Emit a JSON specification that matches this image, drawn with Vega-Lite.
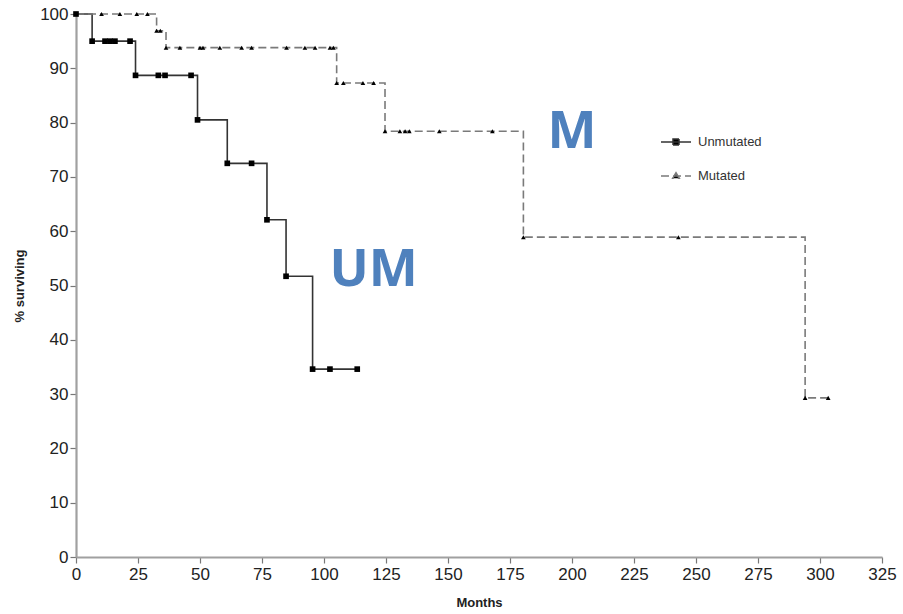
{
  "$schema": "https://vega.github.io/schema/vega-lite/v6.json",
  "width": 806,
  "height": 543,
  "autosize": {"type": "none"},
  "padding": {"left": 76, "top": 14, "right": 21, "bottom": 57},
  "background": "white",
  "config": {
    "view": {"stroke": null},
    "font": "Liberation Sans",
    "axis": {
      "grid": false,
      "domainColor": "#a0a0a0",
      "domainWidth": 2.2,
      "tickColor": "#777777",
      "tickSize": 6,
      "tickWidth": 1.2,
      "labelFlush": false,
      "labelFont": "Liberation Sans",
      "labelFontSize": 17,
      "labelColor": "#222222",
      "titleFont": "Liberation Sans",
      "titleFontWeight": "bold",
      "titleFontSize": 13,
      "titleColor": "#222222"
    },
    "legend": {
      "orient": "none",
      "legendX": 584,
      "legendY": 112,
      "title": null,
      "symbolSize": 900,
      "symbolStrokeWidth": 1.5,
      "labelFont": "Liberation Sans",
      "labelFontSize": 13,
      "labelColor": "#333333",
      "rowPadding": 11,
      "labelOffset": 6
    }
  },
  "datasets": {
    "km": [
      {"series": "Unmutated", "month": 0, "pct": 100, "mark": true},
      {"series": "Unmutated", "month": 6.5, "pct": 95, "mark": true},
      {"series": "Unmutated", "month": 11.7, "pct": 95, "mark": true},
      {"series": "Unmutated", "month": 13.7, "pct": 95, "mark": true},
      {"series": "Unmutated", "month": 15.7, "pct": 95, "mark": true},
      {"series": "Unmutated", "month": 21.8, "pct": 95, "mark": true},
      {"series": "Unmutated", "month": 24, "pct": 88.7, "mark": true},
      {"series": "Unmutated", "month": 33.2, "pct": 88.7, "mark": true},
      {"series": "Unmutated", "month": 35.9, "pct": 88.7, "mark": true},
      {"series": "Unmutated", "month": 46.4, "pct": 88.7, "mark": true},
      {"series": "Unmutated", "month": 49, "pct": 80.5, "mark": true},
      {"series": "Unmutated", "month": 61, "pct": 72.5, "mark": true},
      {"series": "Unmutated", "month": 70.8, "pct": 72.5, "mark": true},
      {"series": "Unmutated", "month": 77, "pct": 62.1, "mark": true},
      {"series": "Unmutated", "month": 84.7, "pct": 51.7, "mark": true},
      {"series": "Unmutated", "month": 95.4, "pct": 34.6, "mark": true},
      {"series": "Unmutated", "month": 102.4, "pct": 34.6, "mark": true},
      {"series": "Unmutated", "month": 113.4, "pct": 34.6, "mark": true},
      {"series": "Mutated", "month": 0, "pct": 100, "mark": false},
      {"series": "Mutated", "month": 10.3, "pct": 100, "mark": true},
      {"series": "Mutated", "month": 17.7, "pct": 100, "mark": true},
      {"series": "Mutated", "month": 24.5, "pct": 100, "mark": true},
      {"series": "Mutated", "month": 28.8, "pct": 100, "mark": true},
      {"series": "Mutated", "month": 32.5, "pct": 96.9, "mark": true},
      {"series": "Mutated", "month": 34, "pct": 96.9, "mark": true},
      {"series": "Mutated", "month": 36.3, "pct": 93.8, "mark": true},
      {"series": "Mutated", "month": 41.9, "pct": 93.8, "mark": true},
      {"series": "Mutated", "month": 50, "pct": 93.8, "mark": true},
      {"series": "Mutated", "month": 51.2, "pct": 93.8, "mark": true},
      {"series": "Mutated", "month": 58, "pct": 93.8, "mark": true},
      {"series": "Mutated", "month": 66.8, "pct": 93.8, "mark": true},
      {"series": "Mutated", "month": 70.8, "pct": 93.8, "mark": true},
      {"series": "Mutated", "month": 84.9, "pct": 93.8, "mark": true},
      {"series": "Mutated", "month": 92.3, "pct": 93.8, "mark": true},
      {"series": "Mutated", "month": 96.4, "pct": 93.8, "mark": true},
      {"series": "Mutated", "month": 102.4, "pct": 93.8, "mark": true},
      {"series": "Mutated", "month": 103.8, "pct": 93.8, "mark": true},
      {"series": "Mutated", "month": 105.1, "pct": 87.3, "mark": true},
      {"series": "Mutated", "month": 107.8, "pct": 87.3, "mark": true},
      {"series": "Mutated", "month": 115.7, "pct": 87.3, "mark": true},
      {"series": "Mutated", "month": 120, "pct": 87.3, "mark": true},
      {"series": "Mutated", "month": 124.6, "pct": 78.4, "mark": true},
      {"series": "Mutated", "month": 130.6, "pct": 78.4, "mark": true},
      {"series": "Mutated", "month": 132.7, "pct": 78.4, "mark": true},
      {"series": "Mutated", "month": 134.4, "pct": 78.4, "mark": true},
      {"series": "Mutated", "month": 146.5, "pct": 78.4, "mark": true},
      {"series": "Mutated", "month": 167.9, "pct": 78.4, "mark": true},
      {"series": "Mutated", "month": 180.4, "pct": 58.9, "mark": true},
      {"series": "Mutated", "month": 242.9, "pct": 58.9, "mark": true},
      {"series": "Mutated", "month": 294, "pct": 29.3, "mark": true},
      {"series": "Mutated", "month": 303.3, "pct": 29.3, "mark": true}
    ],
    "labels": [
      {"label": "UM", "month": 120, "pct": 52.8},
      {"label": "M", "month": 200, "pct": 78.2}
    ]
  },
  "layer": [
    {
      "data": {"name": "km"},
      "mark": {"type": "line", "interpolate": "step-after", "strokeWidth": 1.6},
      "encoding": {
        "x": {
          "field": "month", "type": "quantitative",
          "scale": {"domain": [0, 325], "nice": false},
          "axis": {"values": [0, 25, 50, 75, 100, 125, 150, 175, 200, 225, 250, 275, 300, 325], "title": "Months", "labelPadding": 3, "titlePadding": 14}
        },
        "y": {
          "field": "pct", "type": "quantitative",
          "scale": {"domain": [0, 100], "nice": false},
          "axis": {"values": [0, 10, 20, 30, 40, 50, 60, 70, 80, 90, 100], "title": "% surviving", "labelPadding": 2, "titlePadding": 13}
        },
        "color": {
          "field": "series", "type": "nominal",
          "scale": {"domain": ["Unmutated", "Mutated"], "range": ["#333333", "#7a7a7a"]},
          "legend": {
            "symbolType": "M-1,0H1",
            "encode": {
              "symbols": {
                "update": {
                  "shape": {"signal": "datum.value === 'Unmutated' ? 'M-1,0H1M-0.2,-0.2H0.2V0.2H-0.2Z' : 'M-1,0H1M0,-0.22L0.22,0.15H-0.22Z'"},
                  "fill": {"value": "black"}
                }
              }
            }
          }
        },
        "strokeDash": {
          "field": "series", "type": "nominal",
          "scale": {"domain": ["Unmutated", "Mutated"], "range": [[1, 0], [8, 4]]}
        }
      }
    },
    {
      "data": {"name": "km"},
      "transform": [{"filter": "datum.mark && datum.series === 'Unmutated'"}],
      "mark": {"type": "point", "shape": "square", "size": 32, "filled": true, "opacity": 1, "color": "black"},
      "encoding": {
        "x": {"field": "month", "type": "quantitative"},
        "y": {"field": "pct", "type": "quantitative"}
      }
    },
    {
      "data": {"name": "km"},
      "transform": [{"filter": "datum.mark && datum.series === 'Mutated'"}],
      "mark": {"type": "point", "shape": "triangle-up", "size": 22, "filled": true, "opacity": 1, "color": "black"},
      "encoding": {
        "x": {"field": "month", "type": "quantitative"},
        "y": {"field": "pct", "type": "quantitative"}
      }
    },
    {
      "data": {"name": "labels"},
      "mark": {"type": "text", "font": "Open Sans", "fontWeight": "bold", "fontSize": 52, "color": "#4F81BD", "align": "center", "baseline": "middle"},
      "encoding": {
        "x": {"field": "month", "type": "quantitative"},
        "y": {"field": "pct", "type": "quantitative"},
        "text": {"field": "label"}
      }
    }
  ]
}
